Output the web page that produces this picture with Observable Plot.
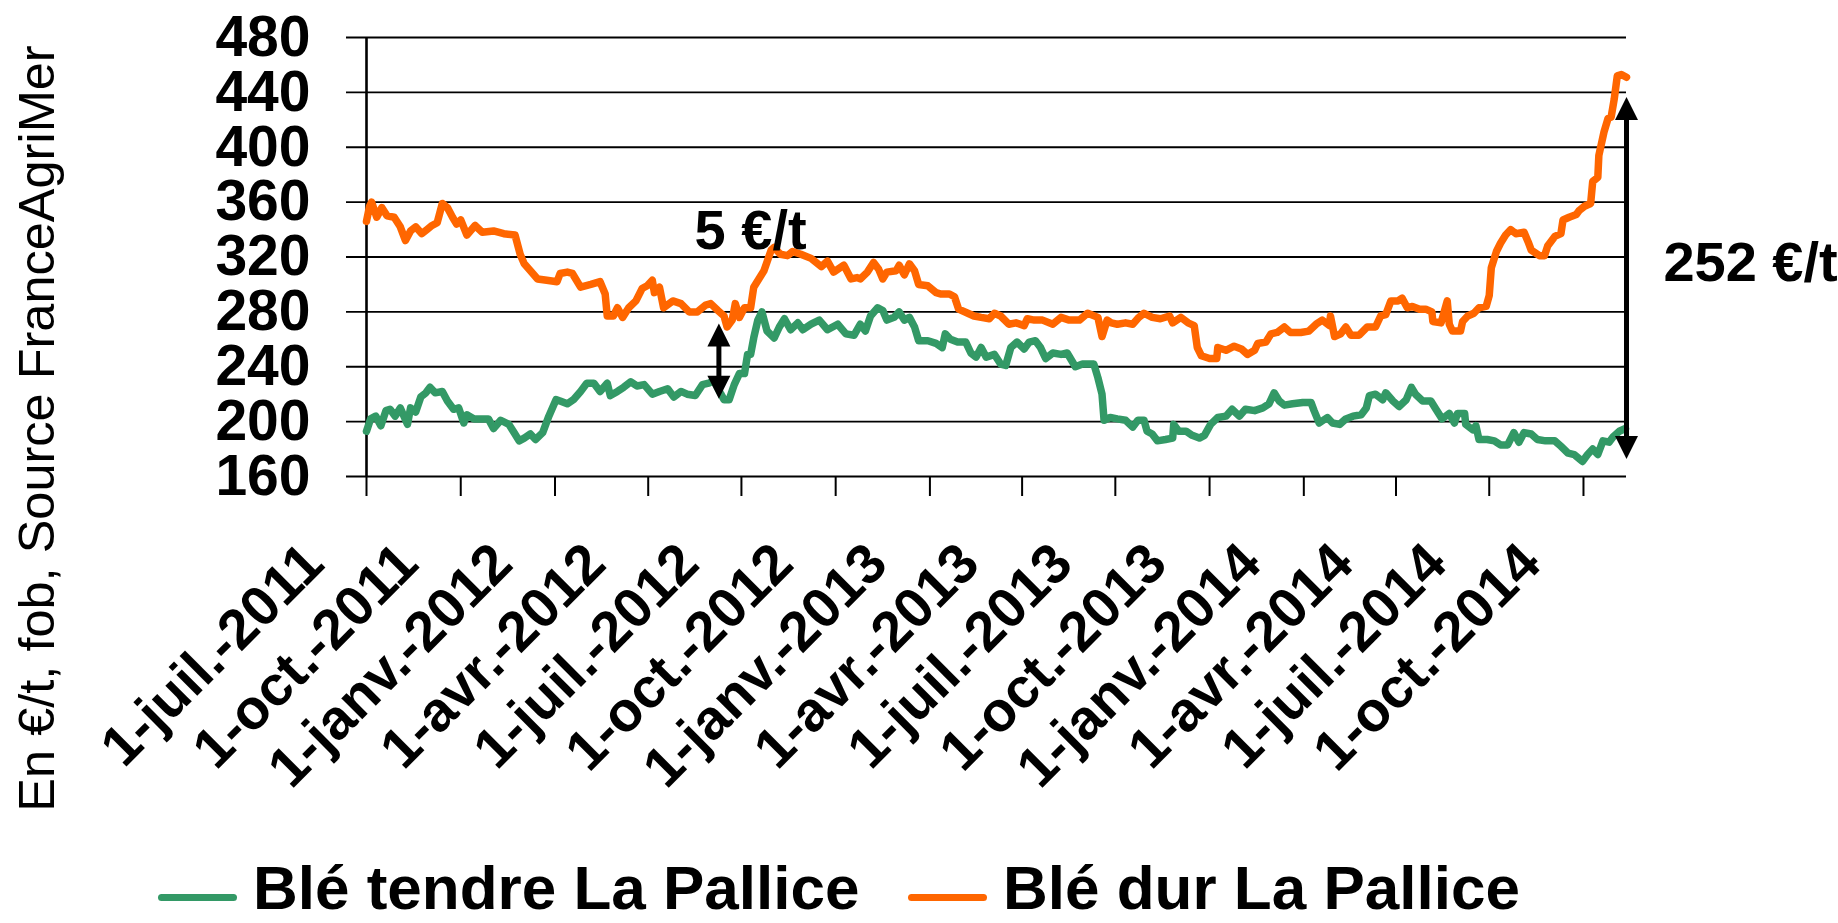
<!DOCTYPE html>
<html>
<head>
<meta charset="utf-8">
<script src="https://cdn.jsdelivr.net/npm/d3@7"></script>
<script src="https://cdn.jsdelivr.net/npm/@observablehq/plot@0.6"></script>
<style>
html, body { margin: 0; padding: 0; background: #fff; overflow: hidden; width: 1838px; height: 923px; }
#chart { position: relative; width: 1838px; height: 923px; font-family: "Liberation Sans", Arial, sans-serif; }
.item { position: absolute; top: 863px; height: 50px; display: flex; align-items: center;
        font: bold 62px/50px "Liberation Sans", Arial, sans-serif; white-space: nowrap; color: #000; }
.sw { width: 79px; height: 7px; border-radius: 4px; margin-right: 16px; position: relative; top: 9px; }
</style>
</head>
<body>
<div id="chart"></div>
<script>
// Jours comptés depuis le 1er juillet 2011
const durJours = [0,3,5,10,15,20,27,33,38,43,48,54,59,64,69,74,79,84,88,92,98,106,113,124,134,145,150,154,160,167,176,186,189,196,201,209,219,228,233,235,241,245,250,256,263,269,274,279,281,286,290,299,307,315,323,331,336,343,349,352,357,360,364,369,375,378,383,388,395,398,404,411,416,424,434,444,450,456,466,473,479,482,489,495,500,504,508,517,520,525,530,535,539,548,556,561,569,574,578,587,593,600,608,613,619,627,634,642,645,652,660,670,678,686,696,704,714,718,723,727,733,741,748,754,759,767,775,784,787,795,802,808,811,815,823,830,831,839,847,854,860,867,870,878,883,889,896,902,912,920,927,933,940,941,945,951,956,961,969,977,985,990,995,1000,1007,1011,1016,1021,1028,1034,1040,1041,1049,1055,1057,1060,1068,1070,1075,1081,1086,1093,1096,1098,1103,1107,1112,1117,1122,1130,1134,1137,1145,1150,1153,1160,1166,1168,1174,1181,1184,1189,1195,1197,1202,1203,1208,1212,1215,1218,1221,1225,1230];
const durPrix = [346,357,360,349,356,350,349,342,332,339,342,337,340,343,345,359,356,349,344,347,336,343,338,339,337,336,322,315,310,304,303,302,308,309,308,298,300,302,293,277,277,283,276,283,288,297,299,303,294,298,283,288,286,280,280,285,286,281,277,269,274,286,276,283,283,298,304,310,325,327,322,321,324,322,319,313,317,309,314,304,305,304,309,316,311,304,309,310,314,307,315,310,300,299,294,293,293,291,282,279,277,276,275,279,277,271,272,270,275,274,274,271,276,274,274,279,276,262,274,272,271,272,271,276,279,276,275,277,272,276,272,270,254,248,246,246,254,252,255,253,249,252,257,258,264,265,269,265,265,266,271,274,270,277,262,264,269,263,263,269,269,277,278,288,288,290,283,284,282,282,280,273,272,288,271,266,266,273,277,279,283,284,292,312,324,330,336,340,337,338,331,325,321,321,328,335,337,347,349,351,354,357,359,375,378,394,411,421,422,435,452,453,451];

const tendreJours = [0,4,9,14,19,23,28,33,40,43,48,53,58,62,67,74,79,85,90,95,98,105,119,124,131,139,144,149,154,160,165,172,178,185,189,196,202,209,215,222,228,235,238,245,251,258,264,271,279,286,294,300,307,313,321,328,334,339,346,349,354,359,364,369,372,375,378,382,386,391,398,403,408,414,421,426,434,442,450,460,468,476,482,487,492,499,504,508,515,520,525,530,535,539,548,556,562,565,570,577,585,590,595,600,605,613,619,624,629,635,642,647,653,658,663,670,678,684,692,699,710,714,718,720,726,733,741,748,753,759,762,767,772,780,787,788,793,800,806,813,818,824,831,839,845,852,858,867,875,881,886,891,896,904,914,922,925,930,938,943,950,956,963,971,976,979,985,992,995,1002,1008,1015,1020,1024,1031,1039,1044,1050,1057,1062,1065,1072,1073,1080,1083,1086,1094,1101,1107,1114,1120,1125,1130,1137,1143,1151,1160,1166,1173,1179,1187,1192,1197,1202,1207,1213,1217,1223,1229];
const tendrePrix = [193,202,204,197,208,209,204,210,198,210,207,218,221,225,221,222,215,209,210,199,205,202,202,195,201,198,192,186,188,191,187,192,204,216,215,213,216,222,228,228,222,228,219,222,225,229,226,227,220,222,224,218,222,220,219,227,228,230,220,216,216,227,235,235,249,249,261,274,280,266,261,269,275,267,272,267,271,274,267,271,264,263,271,266,277,283,281,274,276,280,274,276,269,259,259,257,254,264,260,258,258,250,247,254,247,249,242,241,254,258,253,258,259,254,246,250,249,250,240,242,242,232,220,201,203,202,201,196,201,201,193,191,186,187,188,198,193,193,190,188,190,198,203,204,209,204,209,208,210,213,221,215,212,213,214,214,208,199,203,199,198,202,204,205,210,219,220,216,221,215,211,216,225,220,215,215,209,202,206,199,206,206,198,194,197,187,187,186,183,183,192,185,192,191,187,186,186,182,177,176,171,176,180,176,186,185,189,193,195];

const series = ["Blé tendre La Pallice", "Blé dur La Pallice"];
const couleurs = ["#339966", "#FF6600"];

const yTicks = [160, 200, 240, 280, 320, 360, 400, 440, 480];
const tickDatesIso = ["2011-07-01","2011-10-01","2012-01-01","2012-04-01","2012-07-01","2012-10-01","2013-01-01","2013-04-01","2013-07-01","2013-10-01","2014-01-01","2014-04-01","2014-07-01","2014-10-01"];
const tickLabels = ["1-juil.-2011","1-oct.-2011","1-janv.-2012","1-avr.-2012","1-juil.-2012","1-oct.-2012","1-janv.-2013","1-avr.-2013","1-juil.-2013","1-oct.-2013","1-janv.-2014","1-avr.-2014","1-juil.-2014","1-oct.-2014"];
const yTitle = "En €/t, fob, Source FranceAgriMer";

// Flèches d'écart (jour, prix haut, prix bas) et étiquettes
const flecheJours = [344, 1230];
const flecheHaut = [271.5, 436.6];
const flecheBas = [216.7, 172.7];
const ecartPetit = {t: "5 €/t", jour: 375, prix: 326};
const ecartGrand = {t: "252 €/t", jour: 1266, prix: 302.6};

const base = Date.UTC(2011, 6, 1);
const jour = d => new Date(base + d * 864e5);
const tendre = tendreJours.map((d, i) => ({date: jour(d), prix: tendrePrix[i]}));
const dur = durJours.map((d, i) => ({date: jour(d), prix: durPrix[i]}));
const tickDates = tickDatesIso.map(s => new Date(s + "T00:00:00Z"));
const fleches = flecheJours.map((d, i) => ({date: jour(d), haut: flecheHaut[i], bas: flecheBas[i]}));

const headUp = {draw(ctx) { ctx.moveTo(0, 0); ctx.lineTo(11.5, 23); ctx.lineTo(-11.5, 23); ctx.closePath(); }};
const headDown = {draw(ctx) { ctx.moveTo(0, 0); ctx.lineTo(11.5, -23); ctx.lineTo(-11.5, -23); ctx.closePath(); }};

const font = '"Liberation Sans", Arial, sans-serif';

const chart = Plot.plot({
  width: 1838,
  height: 850,
  marginLeft: 366,
  marginRight: 212,
  marginTop: 37,
  marginBottom: 374,
  style: {fontFamily: font, background: "#fff", color: "#000", overflow: "visible"},
  x: {type: "utc", domain: [jour(0), jour(1230)], axis: null},
  y: {domain: [160, 480], axis: null},
  marks: [
    Plot.ruleY(yTicks, {y: d => d, stroke: "#000", strokeWidth: 1.8, insetLeft: -20}),
    Plot.ruleX(tickDates, {x: d => d, y1: 160, y2: 160, insetBottom: -20, stroke: "#000", strokeWidth: 2}),
    Plot.ruleX([jour(0)], {x: d => d, y1: 480, y2: 160, stroke: "#000", strokeWidth: 2.6}),
    Plot.text(yTicks, {y: d => d, text: d => String(d), frameAnchor: "left", dx: -56, textAnchor: "end",
      fontSize: 57, fontWeight: "bold", fill: "#000"}),
    Plot.text(tickDates, {x: d => d, text: (d, i) => tickLabels[i], frameAnchor: "bottom", rotate: -45,
      textAnchor: "end", lineAnchor: "bottom", dx: -40, dy: 90, fontSize: 56, fontWeight: "bold", fill: "#000"}),
    Plot.text([yTitle], {text: d => d, frameAnchor: "left", rotate: -90, textAnchor: "middle", lineAnchor: "bottom",
      dx: -313, dy: 171.5, fontSize: 50.5, fill: "#000"}),
    Plot.line(tendre, {x: "date", y: "prix", stroke: couleurs[0], strokeWidth: 7.5, strokeLinejoin: "round", strokeLinecap: "round"}),
    Plot.line(dur, {x: "date", y: "prix", stroke: couleurs[1], strokeWidth: 7.5, strokeLinejoin: "round", strokeLinecap: "round"}),
    Plot.ruleX(fleches, {x: "date", y1: "haut", y2: "bas", stroke: "#000", strokeWidth: 5, insetTop: 14, insetBottom: 14}),
    Plot.dot(fleches, {x: "date", y: "haut", symbol: headUp, fill: "#000", stroke: null}),
    Plot.dot(fleches, {x: "date", y: "bas", symbol: headDown, fill: "#000", stroke: null}),
    Plot.text([ecartPetit], {x: d => jour(d.jour), y: "prix", text: "t", textAnchor: "middle",
      lineAnchor: "bottom", fontSize: 56, fontWeight: "bold", fill: "#000"}),
    Plot.text([ecartGrand], {x: d => jour(d.jour), y: "prix", text: "t", textAnchor: "start",
      lineAnchor: "bottom", fontSize: 56, fontWeight: "bold", fill: "#000"})
  ]
});

const root = document.getElementById("chart");
root.appendChild(chart);
const lefts = [158, 908];
series.forEach((s, i) => {
  const item = document.createElement("div");
  item.className = "item";
  item.style.left = lefts[i] + "px";
  const sw = document.createElement("span");
  sw.className = "sw";
  sw.style.background = couleurs[i];
  const t = document.createElement("span");
  t.textContent = s;
  item.appendChild(sw);
  item.appendChild(t);
  root.appendChild(item);
});
</script>
</body>
</html>
